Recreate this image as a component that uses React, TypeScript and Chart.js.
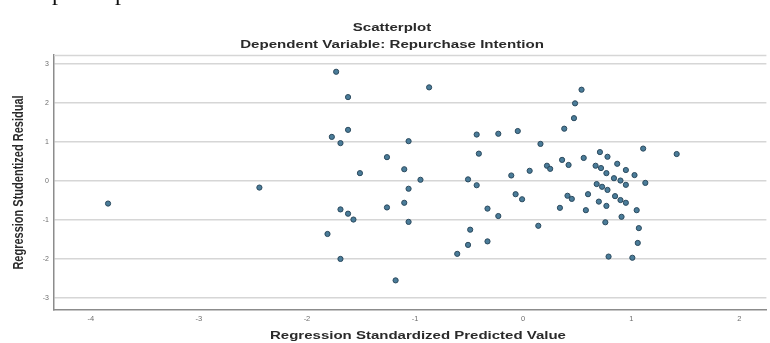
import React, { useEffect, useRef } from "react";
import { Chart, registerables } from "chart.js";

Chart.register(...registerables);

const titleText = "Scatterplot";
const subtitleText = "Dependent Variable: Repurchase Intention";
const xAxisTitle = "Regression Standardized Predicted Value";
const yAxisTitle = "Regression Studentized Residual";

const xTicks = [-4, -3, -2, -1, 0, 1, 2];
const yTicks = [-3, -2, -1, 0, 1, 2, 3];

const predicted = [
  -3.84, -2.44, -1.81, -1.77, -1.73, -1.69, -1.69, -1.69, -1.62, -1.62,
  -1.62, -1.57, -1.51, -1.26, -1.26, -1.18, -1.1, -1.1, -1.06, -1.06,
  -1.06, -0.95, -0.87, -0.61, -0.51, -0.51, -0.49, -0.43, -0.43, -0.41,
  -0.33, -0.33, -0.23, -0.23, -0.11, -0.07, -0.05, -0.01, 0.06, 0.14,
  0.16, 0.22, 0.25, 0.34, 0.36, 0.38, 0.41, 0.42, 0.45, 0.47,
  0.48, 0.54, 0.56, 0.58, 0.6, 0.67, 0.68, 0.7, 0.71, 0.72,
  0.73, 0.76, 0.77, 0.77, 0.78, 0.78, 0.79, 0.84, 0.85, 0.87,
  0.9, 0.9, 0.91, 0.95, 0.95, 0.95, 1.01, 1.03, 1.05, 1.06,
  1.07, 1.11, 1.13, 1.42,
];

const residual = [
  -0.58, -0.17, -1.36, 1.13, 2.8, 0.97, -0.73, -2.0, 2.15, 1.31,
  -0.84, -0.99, 0.2, 0.61, -0.68, -2.55, 0.3, -0.56, 1.02, -0.2,
  -1.05, 0.03, 2.4, -1.87, 0.04, -1.64, -1.25, 1.19, -0.11, 0.7,
  -0.71, -1.55, 1.21, -0.9, 0.14, -0.34, 1.28, -0.47, 0.26, -1.15,
  0.95, 0.39, 0.31, -0.69, 0.54, 1.34, -0.38, 0.41, -0.46, 1.61,
  1.99, 2.34, 0.59, -0.75, -0.34, 0.39, -0.08, -0.53, 0.74, 0.33,
  -0.15, -1.06, 0.2, -0.64, 0.62, -0.23, -1.94, 0.07, -0.39, 0.44,
  0.01, -0.49, -0.92, 0.28, -0.1, -0.56, -1.97, 0.15, -0.75, -1.59,
  -1.21, 0.83, -0.05, 0.69,
];

const stretchedText = {
  id: "stretchedText",
  afterDraw(chart: any) {
    const { ctx, chartArea } = chart;
    const draw = (text: string, x: number, y: number, vertical: boolean, size: number, stretch: number) => {
      ctx.save();
      ctx.font = `bold ${size}px "Liberation Sans", Arial, sans-serif`;
      ctx.fillStyle = "#2a2a2a";
      ctx.textAlign = "center";
      ctx.textBaseline = "middle";
      ctx.translate(x, y);
      if (vertical) {
        ctx.rotate(-Math.PI / 2);
        ctx.scale(1, stretch);
      } else {
        ctx.scale(stretch, 1);
      }
      ctx.fillText(text, 0, 0);
      ctx.restore();
    };
    draw(titleText, 392, 28, false, 10, 1.5);
    draw(subtitleText, 392, 45, false, 10, 1.51);
    draw(xAxisTitle, 418, 336, false, 10, 1.5);
    draw(yAxisTitle, 19, (chartArea.top + chartArea.bottom) / 2, true, 11, 1.3);
    // top frame line
    ctx.save();
    ctx.strokeStyle = "#d6d6d6";
    ctx.lineWidth = 1.5;
    ctx.beginPath();
    ctx.moveTo(chartArea.left, chartArea.top + 0.5);
    ctx.lineTo(chartArea.right, chartArea.top + 0.5);
    ctx.stroke();
    ctx.restore();
  },
};

export default function App() {
  const ref = useRef<HTMLCanvasElement | null>(null);

  useEffect(() => {
    if (!ref.current) return;
    const points = predicted.map((x, i) => ({ x, y: residual[i] }));
    const chart = new Chart(ref.current, {
      type: "scatter",
      data: {
        datasets: [
          {
            data: points,
            backgroundColor: "#4a7c99",
            borderColor: "#2c4a5e",
            borderWidth: 1,
            pointRadius: 2.6,
            pointHoverRadius: 2.6,
          },
        ],
      },
      options: {
        responsive: false,
        animation: false,
        devicePixelRatio: 1,
        layout: { padding: { top: 55, right: 0, bottom: 0, left: 0 } },
        plugins: {
          legend: { display: false },
          tooltip: { enabled: false },
        },
        scales: {
          x: {
            type: "linear",
            min: -4.34,
            max: 2.25,
            afterBuildTicks: (scale: any) => {
              scale.ticks = xTicks.map((v) => ({ value: v }));
            },
            afterFit: (scale: any) => {
              scale.height = 33;
            },
            grid: { display: false, drawTicks: false },
            border: { display: true, color: "#8c8c8c", width: 1.5 },
            ticks: {
              padding: 4,
              color: "#6e6e6e",
              font: { size: 7.5, family: "'Liberation Sans', Arial, sans-serif" },
              callback: (v: any) => String(v),
            },
          },
          y: {
            type: "linear",
            min: -3.31,
            max: 3.23,
            afterBuildTicks: (scale: any) => {
              scale.ticks = yTicks.map((v) => ({ value: v }));
            },
            afterFit: (scale: any) => {
              scale.width = 54;
            },
            grid: { color: "#d6d6d6", lineWidth: 1.5, drawTicks: false },
            border: { display: true, color: "#8c8c8c", width: 1.5 },
            ticks: {
              padding: 5,
              color: "#6e6e6e",
              font: { size: 7, family: "'Liberation Sans', Arial, sans-serif" },
              callback: (v: any) => String(v),
            },
          },
        },
      },
      plugins: [stretchedText],
    });
    return () => chart.destroy();
  }, []);

  return (
    <div style={{ position: "fixed", left: 0, top: 0, width: 770, height: 343, background: "#fff", overflow: "hidden" }}>
      <canvas ref={ref} width={770} height={343} style={{ position: "absolute", left: 0, top: 0 }} />
      <span style={{ position: "absolute", left: 52, top: -20, fontFamily: "'Liberation Serif', serif", fontSize: 24, lineHeight: "24px", color: "#111" }}>p</span>
      <span style={{ position: "absolute", left: 115, top: -20, fontFamily: "'Liberation Serif', serif", fontSize: 24, lineHeight: "24px", color: "#111" }}>p</span>
    </div>
  );
}
